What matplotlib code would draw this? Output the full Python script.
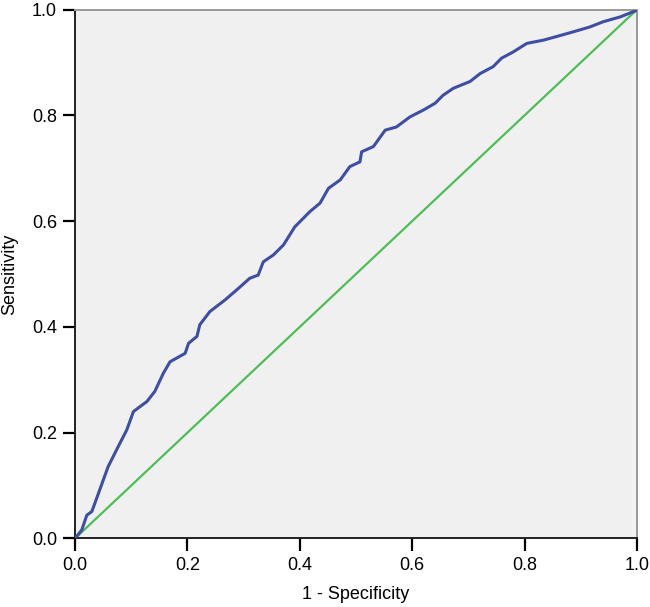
import matplotlib.pyplot as plt

plt.rcParams['font.family'] = ['Liberation Sans', 'DejaVu Sans']

# ROC curve
fpr = [0.0, 0.012, 0.021, 0.030, 0.044, 0.059, 0.077, 0.092, 0.104, 0.128,
       0.142, 0.157, 0.169, 0.196, 0.202, 0.217, 0.222, 0.240, 0.267, 0.291,
       0.311, 0.326, 0.335, 0.353, 0.371, 0.391, 0.418, 0.436, 0.451, 0.472,
       0.489, 0.507, 0.510, 0.531, 0.552, 0.572, 0.596, 0.620, 0.641, 0.655,
       0.673, 0.703, 0.721, 0.744, 0.759, 0.780, 0.804, 0.833, 0.857, 0.887,
       0.916, 0.940, 0.970, 0.996, 1.0]
tpr = [0.0, 0.016, 0.044, 0.051, 0.092, 0.136, 0.174, 0.205, 0.240, 0.259,
       0.278, 0.312, 0.334, 0.350, 0.369, 0.382, 0.404, 0.429, 0.451, 0.473,
       0.492, 0.498, 0.523, 0.536, 0.555, 0.589, 0.618, 0.634, 0.662, 0.678,
       0.703, 0.712, 0.731, 0.741, 0.772, 0.778, 0.797, 0.810, 0.823, 0.838,
       0.851, 0.864, 0.879, 0.892, 0.908, 0.920, 0.936, 0.942, 0.949, 0.958,
       0.967, 0.977, 0.986, 0.997, 1.0]
ref = [0.0, 1.0]
ticks = [0.0, 0.2, 0.4, 0.6, 0.8, 1.0]

fig = plt.figure(figsize=(6.5, 6.07), dpi=100)
ax = fig.add_axes([0.1154, 0.1129, 0.8646, 0.8714])
ax.set_facecolor('#F0F0F0')

ax.plot(ref, ref, color='#4DBE55', linewidth=1.6, zorder=2)
ax.plot(fpr, tpr, color='#3D4EA3', linewidth=2.2, zorder=3)

ax.set_xlim(0, 1)
ax.set_ylim(0, 1)
ax.set_xticks(ticks)
ax.set_yticks(ticks)
ax.set_xticklabels([f"{t:.1f}" for t in ticks])
ax.set_yticklabels([f"{t:.1f}" for t in ticks])
ax.tick_params(direction='out', length=9, width=1.6, labelsize=13, colors='black', pad=4)

for side in ['left', 'bottom']:
    ax.spines[side].set_color('#222222')
    ax.spines[side].set_linewidth(1.4)
for side in ['top', 'right']:
    ax.spines[side].set_color('#999999')
    ax.spines[side].set_linewidth(1.4)

ax.set_xlabel("1 - Specificity", fontsize=13)
ax.set_ylabel("Sensitivity", fontsize=13)
ax.xaxis.set_label_coords(0.5, -0.090)
ax.yaxis.set_label_coords(-0.101, 0.5)

fig.savefig("out.png", dpi=100)
